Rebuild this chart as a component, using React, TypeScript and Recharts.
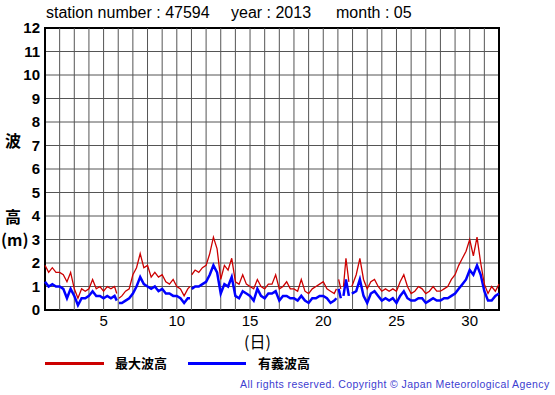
import React from "react";
import { LineChart, Line, XAxis, YAxis, CartesianGrid, ReferenceLine, ReferenceArea } from "recharts";

// time in days (1.00 = day 1, 00:00)
const times = [
  1.0, 1.25, 1.5, 1.75, 2.0, 2.25, 2.5, 2.75, 3.0, 3.25, 3.5, 3.75, 4.0, 4.25, 4.5, 4.75,
  5.0, 5.25, 5.5, 5.75, 5.9, 5.96, 6.05, 6.25, 6.5, 6.75, 7.0, 7.25, 7.5, 7.75, 8.0, 8.25, 8.5, 8.75,
  9.0, 9.25, 9.5, 9.75, 10.0, 10.25, 10.5, 10.75, 10.9, 10.95, 11.02, 11.25, 11.5, 11.75, 12.0, 12.25, 12.5, 12.75,
  13.0, 13.25, 13.5, 13.75, 14.0, 14.25, 14.5, 14.75, 15.0, 15.25, 15.5, 15.75, 16.0, 16.25, 16.5, 16.75,
  17.0, 17.25, 17.5, 17.75, 18.0, 18.25, 18.5, 18.75, 19.0, 19.25, 19.5, 19.75, 20.0, 20.25, 20.5, 20.75,
  20.9, 20.95, 21.05, 21.2, 21.28, 21.38, 21.55, 21.75, 21.85, 21.95, 22.25, 22.5, 22.75, 23.0, 23.25, 23.5, 23.75, 24.0, 24.25, 24.5, 24.75,
  25.0, 25.25, 25.5, 25.75, 26.0, 26.25, 26.5, 26.75, 27.0, 27.25, 27.5, 27.75, 28.0, 28.25, 28.5, 28.75,
  29.0, 29.25, 29.5, 29.75, 30.0, 30.25, 30.5, 30.75, 31.0, 31.25, 31.5, 31.75, 32.0,
];

// 最大波高 (m)
const maxWave: (number | null)[] = [
  1.9, 1.6, 1.8, 1.6, 1.6, 1.5, 1.2, 1.6, 0.9, 0.5, 0.9, 0.8, 0.9, 1.3, 0.9, 1.0,
  0.8, 1.0, 0.9, 1.0, 0.7, null, 0.5, 0.6, 0.8, 0.9, 1.5, 1.8, 2.4, 1.8, 1.9, 1.4, 1.6, 1.4,
  1.5, 1.2, 1.1, 1.3, 1.0, 0.9, 0.6, 0.9, 1.0, null, 1.5, 1.7, 1.6, 1.8, 1.9, 2.4, 3.1, 2.6,
  1.3, 1.9, 1.7, 2.2, 1.2, 1.1, 1.5, 1.1, 1.0, 0.9, 1.3, 1.0, 0.9, 1.1, 1.1, 1.5,
  0.9, 1.0, 1.2, 0.9, 0.9, 0.8, 1.3, 0.8, 0.7, 0.9, 1.0, 1.1, 1.2, 0.9, 0.8, 0.7,
  0.9, null, 1.3, 0.9, null, 1.0, 2.2, 1.2, null, 1.0, 1.5, 2.2, 1.3, 0.9, 1.2, 1.3, 1.0, 0.8, 0.9, 0.8, 0.9,
  0.8, 1.2, 1.5, 1.0, 0.7, 0.8, 1.0, 0.9, 0.7, 0.8, 1.0, 0.8, 0.8, 0.9, 1.0, 1.3,
  1.5, 1.9, 2.2, 2.5, 3.0, 2.3, 3.1, 2.0, 1.1, 0.7, 1.0, 0.8, 1.1,
];

// 有義波高 (m)
const sigWave: (number | null)[] = [
  1.2, 1.0, 1.1, 1.0, 1.0, 0.9, 0.5, 0.9, 0.6, 0.2, 0.5, 0.5, 0.6, 0.8, 0.6, 0.6,
  0.5, 0.6, 0.5, 0.6, 0.4, null, 0.3, 0.3, 0.4, 0.5, 0.7, 1.0, 1.4, 1.1, 1.0, 0.9, 1.0, 0.8,
  0.9, 0.7, 0.7, 0.6, 0.6, 0.5, 0.3, 0.5, 0.5, null, 0.9, 1.0, 1.0, 1.1, 1.2, 1.5, 1.9, 1.6,
  0.7, 1.1, 1.0, 1.4, 0.6, 0.5, 0.8, 0.7, 0.6, 0.4, 0.9, 0.6, 0.5, 0.7, 0.7, 0.8,
  0.4, 0.6, 0.6, 0.5, 0.5, 0.4, 0.6, 0.4, 0.3, 0.5, 0.5, 0.6, 0.6, 0.5, 0.3, 0.4,
  0.5, null, 0.9, 0.5, null, 0.6, 1.3, 0.6, null, 0.7, 0.8, 1.3, 0.6, 0.3, 0.7, 0.8, 0.6, 0.4, 0.5, 0.4, 0.5,
  0.3, 0.6, 0.8, 0.5, 0.4, 0.4, 0.5, 0.5, 0.3, 0.4, 0.5, 0.4, 0.4, 0.5, 0.5, 0.6,
  0.7, 0.9, 1.1, 1.3, 1.7, 1.5, 1.9, 1.5, 0.8, 0.4, 0.4, 0.6, 0.7,
];

const xTicks = [5, 10, 15, 20, 25, 30];
const yTicks = [0, 1, 2, 3, 4, 5, 6, 7, 8, 9, 10, 11, 12];
const gridDays = [2, 3, 4, 5, 6, 7, 8, 9, 10, 11, 12, 13, 14, 15, 16, 17, 18, 19, 20, 21, 22, 23, 24, 25, 26, 27, 28, 29, 30, 31];

const data = times.map((t, i) => ({ t, max: maxWave[i], sig: sigWave[i] }));

const latin = "'Liberation Sans', Arial, Helvetica, sans-serif";
const cjk = "'Noto Sans CJK JP', 'Noto Sans CJK SC', sans-serif";

const abs = (style: React.CSSProperties): React.CSSProperties => ({ position: "absolute", whiteSpace: "nowrap", lineHeight: 1, ...style });

export default function App() {
  return (
    <div style={{ position: "absolute", left: 0, top: 0, width: 555, height: 395, background: "#fff", overflow: "hidden" }}>
      <LineChart width={555} height={395} data={data} margin={{ top: 28, right: 56, bottom: 55, left: 5 }}>
        <CartesianGrid vertical={false} stroke="#555" strokeWidth={1} />
        {gridDays.map((d) => (
          <ReferenceLine key={d} x={d} stroke="#555" strokeWidth={1} />
        ))}
        <XAxis
          dataKey="t"
          type="number"
          domain={[1, 32]}
          ticks={xTicks}
          interval={0}
          axisLine={false}
          tickLine={false}
          tickSize={0}
          tickMargin={5}
          height={30}
          tick={{ fill: "#000", fontSize: 15, fontFamily: latin }}
        />
        <YAxis
          type="number"
          domain={[0, 12]}
          ticks={yTicks}
          interval={0}
          axisLine={false}
          tickLine={false}
          tickSize={0}
          tickMargin={5}
          width={40}
          tick={{ fill: "#000", fontSize: 15, fontWeight: "bold", fontFamily: latin }}
        />
        <Line type="linear" dataKey="sig" stroke="#0000ff" strokeWidth={2.5} dot={false} isAnimationActive={false} connectNulls={false} />
        <Line type="linear" dataKey="max" stroke="#cc0000" strokeWidth={1.3} dot={false} isAnimationActive={false} connectNulls={false} />
        <ReferenceArea x1={1} x2={32} y1={0} y2={12} fill="none" stroke="#000" strokeWidth={2} ifOverflow="visible" />
      </LineChart>

      <div style={abs({ left: 46, top: 5, fontSize: 16, fontFamily: latin, color: "#000" })}>station number : 47594</div>
      <div style={abs({ left: 231, top: 5, fontSize: 16, fontFamily: latin, color: "#000" })}>year : 2013</div>
      <div style={abs({ left: 336, top: 5, fontSize: 16, fontFamily: latin, color: "#000" })}>month : 05</div>

      <div style={abs({ left: 5, top: 132, fontSize: 16, fontWeight: "bold", fontFamily: cjk })}>波</div>
      <div style={abs({ left: 5, top: 208, fontSize: 16, fontWeight: "bold", fontFamily: cjk })}>高</div>
      <div style={abs({ left: 1, top: 231, fontSize: 16, fontWeight: "bold", fontFamily: cjk })}>(m)</div>

      <div style={abs({ left: 244, top: 333, fontSize: 16, fontFamily: cjk })}>(日)</div>

      <div style={abs({ left: 45, top: 362, width: 59, height: 3, background: "#cc0000" })} />
      <div style={abs({ left: 115, top: 356, fontSize: 13, fontWeight: "bold", fontFamily: cjk })}>最大波高</div>
      <div style={abs({ left: 188, top: 362, width: 58, height: 3, background: "#0000ff" })} />
      <div style={abs({ left: 258, top: 356, fontSize: 13, fontWeight: "bold", fontFamily: cjk })}>有義波高</div>

      <div style={abs({ left: 240, top: 379, fontSize: 10.5, letterSpacing: 0.4, fontFamily: latin, color: "#3c3cd0" })}>
        All rights reserved. Copyright © Japan Meteorological Agency
      </div>
    </div>
  );
}
